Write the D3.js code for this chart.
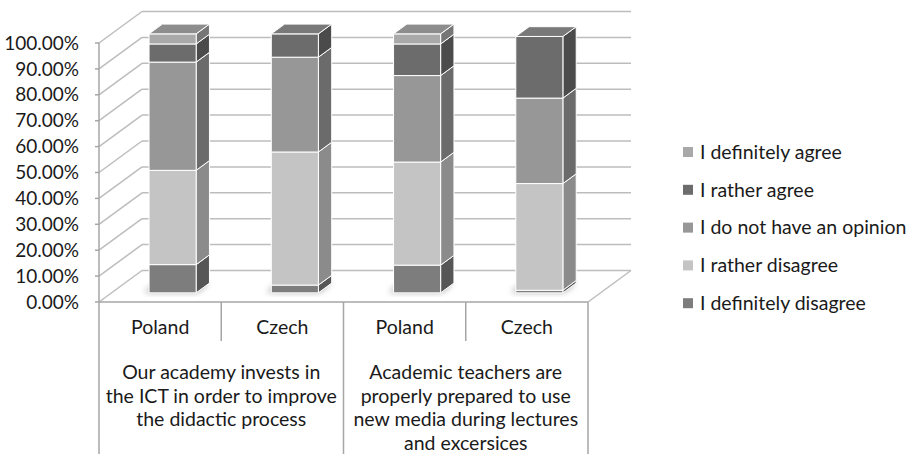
<!doctype html>
<html>

<head>
    <title>
        ICT stacked 3D columns
    </title>
    <style>
        body { margin: 0; background: #ffffff; }
        text { font-family: Lato, "Open Sans", sans-serif; fill: #1a1a1a; }
    </style>
</head>

<body>
    <script src="https://d3js.org/d3.v7.min.js"></script>
    <script>
    // categories on the front axis and the two question groups
    var countries = ["Poland", "Czech", "Poland", "Czech"];
    var questions = [
        ["Our academy invests in", "the ICT in order to improve", "the didactic process"],
        ["Academic teachers are", "properly prepared to use", "new media during lectures", "and excersices"]
    ];

    // answer series, bottom to top of the stack
    var series = ["I definitely disagree", "I rather disagree", "I do not have an opinion", "I rather agree", "I definitely agree"];

    // share of answers per bar (Poland Q1, Czech Q1, Poland Q2, Czech Q2)
    var definitelyDisagree = [0.109, 0.030, 0.107, 0.010];
    var ratherDisagree = [0.364, 0.514, 0.398, 0.412];
    var noOpinion = [0.418, 0.366, 0.334, 0.330];
    var ratherAgree = [0.070, 0.090, 0.122, 0.238];
    var definitelyAgree = [0.039, 0.000, 0.039, 0.000];

    var yTicks = [0, 0.1, 0.2, 0.3, 0.4, 0.5, 0.6, 0.7, 0.8, 0.9, 1.0];

    // colours, same order as series
    var frontColors = ["#7d7d7d", "#c4c4c4", "#979797", "#6c6c6c", "#a9a9a9"];
    var sideColors = ["#565656", "#8b8b8b", "#6b6b6b", "#4b4b4b", "#767676"];
    var topColors = ["#6f6f6f", "#a8a8a8", "#858585", "#797979", "#8d8d8d"];

    var width = 912, height = 454;
    var fontSize = 19.5;

    // depth vector of the 3D box (front to back wall)
    var depth = { dx: 43, dy: -31.5 };
    var barFront = 0.29, barBack = 0.60;

    var svg = d3.select("body")
        .append("svg")
        .attr("width", width)
        .attr("height", height)

    var defs = svg.append("defs");
    defs.append("filter")
        .attr("id", "soft")
        .attr("x", "-50%").attr("y", "-50%")
        .attr("width", "200%").attr("height", "200%")
        .append("feGaussianBlur")
        .attr("stdDeviation", 3)

    // scales for the front plane
    var x = d3.scaleBand()
        .domain(d3.range(countries.length))
        .range([99, 588])
        .padding(0)

    var y = d3.scaleLinear()
        .domain([0, 1])
        .range([302, 43])

    // project a point at front-plane (px, value) pushed back by t of the depth
    function proj(px, v, t) {
        return [px + t * depth.dx, y(v) + t * depth.dy];
    }

    function poly(points) {
        return points.map(function(p) { return p[0] + "," + p[1]; }).join(" ");
    }

    var gridColor = "#bdbdbd";
    var axisColor = "#a6a6a6";

    // back wall grid lines
    svg.append("g")
        .selectAll("line")
        .data(yTicks)
        .join("line")
        .attr("x1", function(d) { return proj(99, d, 1)[0]; })
        .attr("x2", function(d) { return proj(588, d, 1)[0]; })
        .attr("y1", function(d) { return proj(99, d, 1)[1]; })
        .attr("y2", function(d) { return proj(588, d, 1)[1]; })
        .attr("stroke", gridColor)
        .attr("stroke-width", 1.5)

    // side wall grid lines
    svg.append("g")
        .selectAll("line")
        .data(yTicks)
        .join("line")
        .attr("x1", function(d) { return proj(99, d, 0)[0]; })
        .attr("x2", function(d) { return proj(99, d, 1)[0]; })
        .attr("y1", function(d) { return proj(99, d, 0)[1]; })
        .attr("y2", function(d) { return proj(99, d, 1)[1]; })
        .attr("stroke", gridColor)
        .attr("stroke-width", 1.5)

    // floor right edge
    svg.append("line")
        .attr("x1", proj(588, 0, 0)[0]).attr("y1", proj(588, 0, 0)[1])
        .attr("x2", proj(588, 0, 1)[0]).attr("y2", proj(588, 0, 1)[1])
        .attr("stroke", gridColor)
        .attr("stroke-width", 1.5)

    // stacked data
    var table = countries.map(function(c, i) {
        return {
            i: i,
            values: [definitelyDisagree[i], ratherDisagree[i], noOpinion[i], ratherAgree[i], definitelyAgree[i]]
        };
    });
    var barW = x.bandwidth() * 0.385;

    var bars = svg.append("g")
        .selectAll("g")
        .data(table)
        .join("g")

    bars.each(function(d) {
        var g = d3.select(this);
        var cx = x(d.i) + x.bandwidth() / 2;
        var xl = cx - barW / 2, xr = cx + barW / 2;

        // soft floor shadow
        g.append("polygon")
            .attr("points", poly([proj(xl - 6, 0, barFront + 0.02), proj(xr, 0, barFront + 0.02),
                proj(xr, 0, barBack), proj(xl - 6, 0, barBack)]))
            .attr("fill", "#000")
            .attr("opacity", 0.35)
            .attr("filter", "url(#soft)")

        var base = 0;
        var lastTop = -1;
        d.values.forEach(function(v, k) { if (v > 0) lastTop = k; });

        d.values.forEach(function(v, k) {
            if (v <= 0) return;
            var v0 = base, v1 = base + v;
            base = v1;

            // right side
            g.append("polygon")
                .attr("points", poly([proj(xr, v0, barFront), proj(xr, v0, barBack),
                    proj(xr, v1, barBack), proj(xr, v1, barFront)]))
                .attr("fill", sideColors[k])
                .attr("stroke", "#ffffff")
                .attr("stroke-width", 1)
                .attr("stroke-linejoin", "round")

            // front
            g.append("polygon")
                .attr("points", poly([proj(xl, v0, barFront), proj(xr, v0, barFront),
                    proj(xr, v1, barFront), proj(xl, v1, barFront)]))
                .attr("fill", frontColors[k])
                .attr("stroke", "#ffffff")
                .attr("stroke-width", 1)
                .attr("stroke-linejoin", "round")

            // top, only on the highest segment
            if (k === lastTop) {
                g.append("polygon")
                    .attr("points", poly([proj(xl, v1, barFront), proj(xr, v1, barFront),
                        proj(xr, v1, barBack), proj(xl, v1, barBack)]))
                    .attr("fill", topColors[k])
                    .attr("stroke", "#ffffff")
                    .attr("stroke-width", 1)
                    .attr("stroke-linejoin", "round")
            }
        });
    });

    // front value axis
    svg.append("line")
        .attr("x1", 99).attr("x2", 99)
        .attr("y1", y(1)).attr("y2", y(0))
        .attr("stroke", axisColor)
        .attr("stroke-width", 1.5)

    var yAxis = svg.append("g")
        .selectAll("g")
        .data(yTicks)
        .join("g")
        .attr("transform", function(d) { return "translate(0," + y(d) + ")"; })

    yAxis.append("line")
        .attr("x1", 95).attr("x2", 99)
        .attr("stroke", axisColor)
        .attr("stroke-width", 1.5)

    yAxis.append("text")
        .attr("x", 79)
        .attr("dy", "0.35em")
        .attr("text-anchor", "end")
        .attr("font-size", 19)
        .text(function(d) { return d3.format(".2%")(d); })

    // category axis: floor front edge and the table below it
    svg.append("line")
        .attr("x1", 99).attr("x2", 588)
        .attr("y1", y(0)).attr("y2", y(0))
        .attr("stroke", axisColor)
        .attr("stroke-width", 1.5)

    var dividers = d3.range(countries.length + 1);
    svg.append("g")
        .selectAll("line")
        .data(dividers)
        .join("line")
        .attr("x1", function(d) { return d === countries.length ? 588 : x(d); })
        .attr("x2", function(d) { return d === countries.length ? 588 : x(d); })
        .attr("y1", y(0))
        .attr("y2", function(d) { return d % 2 === 0 ? height : 341; })
        .attr("stroke", axisColor)
        .attr("stroke-width", 1.5)

    svg.append("g")
        .selectAll("text")
        .data(countries)
        .join("text")
        .attr("x", function(d, i) { return x(i) + x.bandwidth() / 2; })
        .attr("y", 327)
        .attr("dy", "0.35em")
        .attr("text-anchor", "middle")
        .attr("font-size", fontSize)
        .text(function(d) { return d; })

    var groups = svg.append("g")
        .selectAll("text")
        .data(questions)
        .join("text")
        .attr("text-anchor", "middle")
        .attr("font-size", fontSize)

    groups.selectAll("tspan")
        .data(function(d, i) { return d.map(function(t) { return { t: t, g: i }; }); })
        .join("tspan")
        .attr("x", function(d) { return x(d.g * 2 + 1); })
        .attr("y", function(d, j) { return 372 + j * 23.8; })
        .attr("dy", "0.35em")
        .text(function(d) { return d.t; })

    // legend, top entry is the top of the stack
    var legendOrder = series.map(function(s, k) { return k; }).reverse();
    var legend = svg.append("g")
        .selectAll("g")
        .data(legendOrder)
        .join("g")
        .attr("transform", function(d, j) { return "translate(683," + (152 + j * 37.8) + ")"; })

    legend.append("rect")
        .attr("x", 0)
        .attr("y", -5)
        .attr("width", 10)
        .attr("height", 10)
        .attr("fill", function(k) { return frontColors[k]; })

    legend.append("text")
        .attr("x", 17)
        .attr("dy", "0.35em")
        .attr("font-size", fontSize)
        .text(function(k) { return series[k]; })
    </script>
</body>
